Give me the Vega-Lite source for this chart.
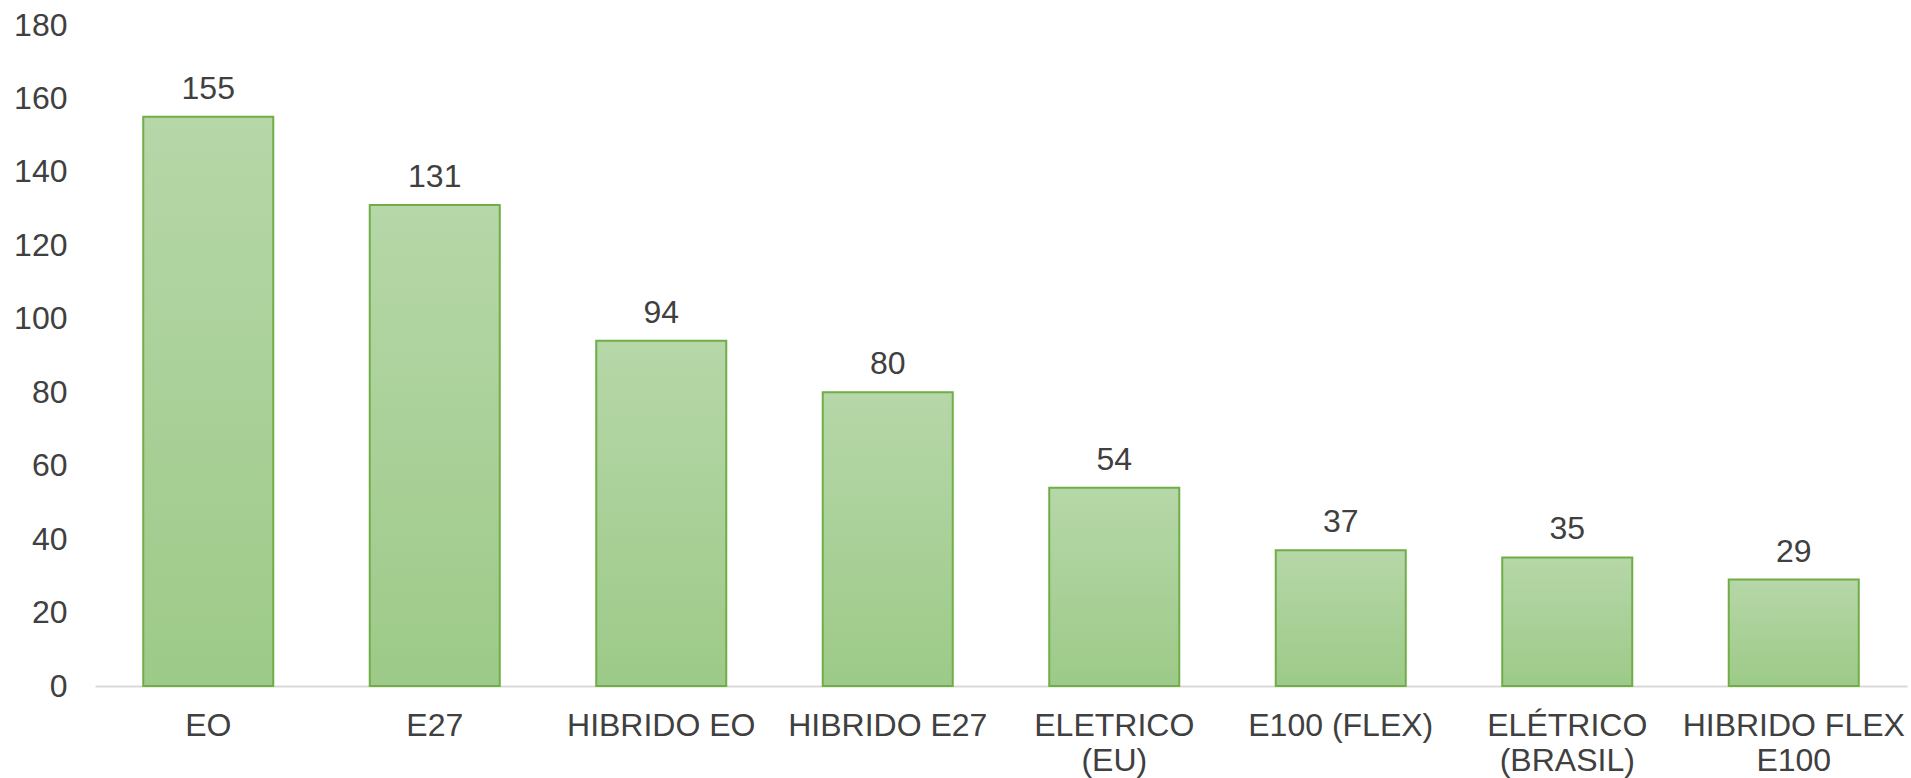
{
  "$schema": "https://vega.github.io/schema/vega-lite/v6.json",
  "autosize": "none",
  "width": 1812,
  "height": 661,
  "padding": {"left": 95, "top": 25, "right": 4, "bottom": 92},
  "background": "white",
  "config": {"view": {"stroke": null}, "font": "Liberation Sans"},
  "data": {"values": [
    {"cat": "EO", "v": 155},
    {"cat": "E27", "v": 131},
    {"cat": "HIBRIDO EO", "v": 94},
    {"cat": "HIBRIDO E27", "v": 80},
    {"cat": "ELETRICO (EU)", "v": 54},
    {"cat": "E100 (FLEX)", "v": 37},
    {"cat": "ELÉTRICO (BRASIL)", "v": 35},
    {"cat": "HIBRIDO FLEX E100", "v": 29}
  ]},
  "encoding": {
    "x": {"field": "cat", "type": "nominal", "sort": null,
      "scale": {"paddingInner": 0.426, "paddingOuter": 0.213},
      "axis": {"title": null, "labelAngle": 0, "ticks": false, "domainColor": "#d9d9d9", "domainWidth": 2,
        "labelFont": "Liberation Sans", "labelFontSize": 32, "labelColor": "#404040", "labelPadding": 24, "labelLineHeight": 35,
        "labelLimit": 0, "labelOverlap": false,
        "labelExpr": "datum.value == 'ELETRICO (EU)' ? ['ELETRICO', '(EU)'] : datum.value == 'ELÉTRICO (BRASIL)' ? ['ELÉTRICO', '(BRASIL)'] : datum.value == 'HIBRIDO FLEX E100' ? ['HIBRIDO FLEX', 'E100'] : datum.value"}},
    "y": {"field": "v", "type": "quantitative",
      "scale": {"domain": [0, 180], "nice": false},
      "axis": {"title": null, "values": [0,20,40,60,80,100,120,140,160,180], "grid": false, "domain": false, "ticks": false,
        "labelFont": "Liberation Sans", "labelFontSize": 32, "labelColor": "#404040", "labelPadding": 28}}
  },
  "layer": [
    {"mark": {"type": "bar", "stroke": "#70ad47", "strokeWidth": 2,
      "color": {"gradient": "linear", "x1": 0, "y1": 0, "x2": 0, "y2": 1,
        "stops": [{"offset": 0, "color": "#b6d7a8"}, {"offset": 1, "color": "#9dca88"}]}}},
    {"mark": {"type": "text", "baseline": "alphabetic", "dy": -18, "font": "Liberation Sans", "fontSize": 32, "color": "#404040"},
      "encoding": {"text": {"field": "v", "type": "quantitative"}}}
  ]
}
